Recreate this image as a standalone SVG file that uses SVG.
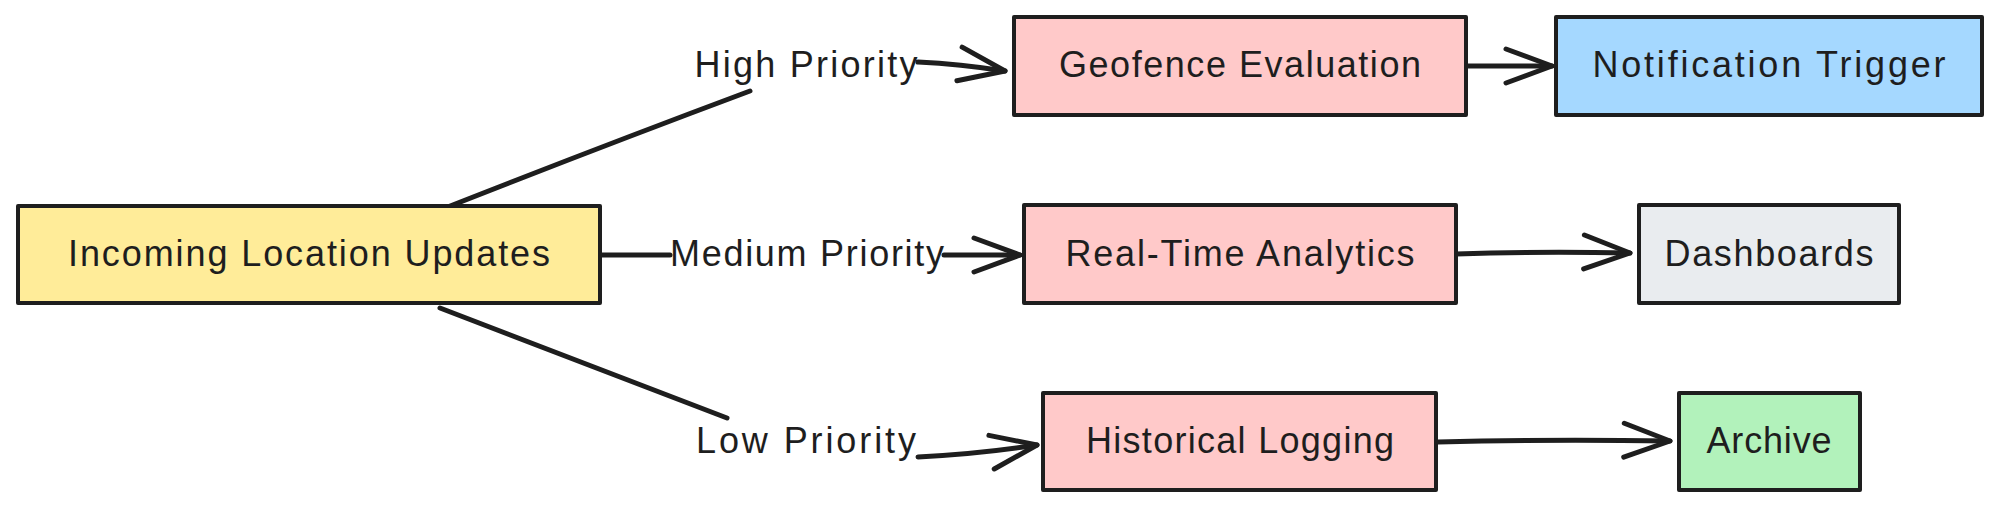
<svg xmlns="http://www.w3.org/2000/svg" width="2000" height="508" viewBox="0 0 2000 508">
  <style>
    .box { stroke: #1e1e1e; stroke-width: 4; stroke-linejoin: round; }
    .lbl { font-family: "Liberation Sans", Arial, sans-serif; font-size: 36px; fill: #1e1e1e; text-anchor: middle; }
    .edge { fill: none; stroke: #1e1e1e; stroke-width: 5; stroke-linecap: round; }
    .pink { fill: #ffc9c9; }
  </style>
  <defs>
    <marker id="arr" markerUnits="userSpaceOnUse" markerWidth="60" markerHeight="50" refX="0" refY="0" viewBox="-52 -25 60 50" orient="auto" overflow="visible">
      <path d="M-46,-17 L0,0 L-46,17" fill="none" stroke="#1e1e1e" stroke-width="5" stroke-linecap="round" stroke-linejoin="round"/>
    </marker>
  </defs>
  <rect width="2000" height="508" fill="#ffffff"/>

  <g id="connectors">
    <path class="edge" d="M440,210 Q600,147 750,91"/>
    <path class="edge" d="M918,62 Q960,64 1005,71" marker-end="url(#arr)"/>
    <text class="lbl" x="806" y="77" textLength="223">High Priority</text>

    <path class="edge" d="M600,255 L670,255"/>
    <path class="edge" d="M944,255 L1020,255" marker-end="url(#arr)"/>
    <text class="lbl" x="807" y="266" textLength="274">Medium Priority</text>

    <path class="edge" d="M440,308 Q590,365 727,418"/>
    <path class="edge" d="M918,457 Q980,454 1037,445" marker-end="url(#arr)"/>
    <text class="lbl" x="806" y="453" textLength="220">Low Priority</text>

    <path class="edge" d="M1466,66 L1552,66" marker-end="url(#arr)"/>
    <path class="edge" d="M1456,254 Q1540,251 1630,253" marker-end="url(#arr)"/>
    <path class="edge" d="M1438,442 Q1550,439 1670,441" marker-end="url(#arr)"/>
  </g>

  <g id="incoming">
    <rect class="box" x="18" y="206" width="582" height="97" fill="#ffec99"/>
    <text class="lbl" x="309" y="266" textLength="482">Incoming Location Updates</text>
  </g>
  <g id="geofence">
    <rect class="box pink" x="1014" y="17" width="452" height="98"/>
    <text class="lbl" x="1240" y="77" textLength="362">Geofence Evaluation</text>
  </g>
  <g id="notification">
    <rect class="box" x="1556" y="17" width="426" height="98" fill="#a5d8ff"/>
    <text class="lbl" x="1769" y="77" textLength="353">Notification Trigger</text>
  </g>
  <g id="realtime">
    <rect class="box pink" x="1024" y="205" width="432" height="98"/>
    <text class="lbl" x="1240" y="266" textLength="349">Real-Time Analytics</text>
  </g>
  <g id="dashboards">
    <rect class="box" x="1639" y="205" width="260" height="98" fill="#e9ecef"/>
    <text class="lbl" x="1769" y="266" textLength="209">Dashboards</text>
  </g>
  <g id="historical">
    <rect class="box pink" x="1043" y="393" width="393" height="97"/>
    <text class="lbl" x="1240" y="453" textLength="308">Historical Logging</text>
  </g>
  <g id="archive">
    <rect class="box" x="1679" y="393" width="181" height="97" fill="#b2f2bb"/>
    <text class="lbl" x="1769" y="453" textLength="125">Archive</text>
  </g>
</svg>
